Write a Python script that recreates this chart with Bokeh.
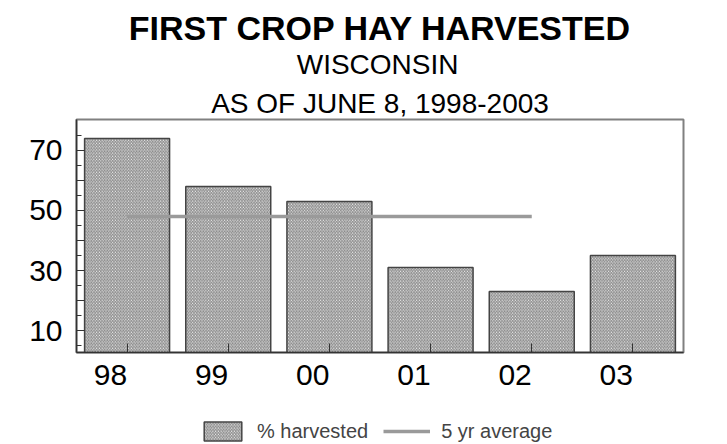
from bokeh.plotting import figure
from bokeh.layouts import column
from bokeh.models import (FactorRange, Range1d, FixedTicker, Title, Legend, LegendItem)
from bokeh.embed import file_html
from bokeh.resources import INLINE

# ---- data ----
years = ["98", "99", "00", "01", "02", "03"]
harvested = [74, 58, 53, 31, 23, 35]
avg_years = ["98", "99", "00", "01", "02"]
avg_values = [48, 48, 48, 48, 48]
y_ticks = [10, 20, 30, 40, 50, 60, 70]
y_minor = [5, 15, 25, 35, 45, 55, 65, 75]
y_labels = {10: "10", 20: "", 30: "30", 40: "", 50: "50", 60: "", 70: "70"}
title_main = "FIRST CROP HAY HARVESTED"
title_sub1 = "WISCONSIN"
title_sub2 = "AS OF JUNE 8, 1998-2003"
legend_labels = ["% harvested", "5 yr average"]

FONT = "Liberation Sans"
BAR_STYLE = dict(fill_color="white", hatch_pattern="\\", hatch_color="#808080",
                 hatch_scale=3.2, hatch_weight=1, line_color="#444444", line_width=1.5)
AVG_STYLE = dict(line_color="#9a9a9a", line_width=3.5)

xr = FactorRange(*years, range_padding=0)
p = figure(x_range=xr, y_range=Range1d(2.67, 80.33),
           width=727, height=412, frame_width=607, frame_height=233,
           min_border_left=76, min_border_right=44, min_border_top=119, min_border_bottom=60,
           output_backend="svg", toolbar_location=None)

bars = p.vbar(x=years, top=harvested, width=0.84, bottom=0, **BAR_STYLE)
avg = p.line(x=avg_years, y=avg_values, **AVG_STYLE)
avg.level = "overlay"

# sub-titles as one two-line block (lines are left-aligned, so pad the short one)
pad = "\u00a0" * 11
p.add_layout(Title(text=pad + title_sub1 + "\n" + title_sub2, align="center", text_font=FONT,
                   text_font_size="28px", text_font_style="normal", text_color="black",
                   text_line_height=1.28, standoff=0), "above")
p.add_layout(Title(text=title_main, align="center", text_font=FONT,
                   text_font_size="34px", text_font_style="bold", text_color="black",
                   standoff=0), "above")

p.grid.visible = False
p.outline_line_color = "#808080"
p.outline_line_width = 2

p.yaxis.ticker = FixedTicker(ticks=y_ticks, minor_ticks=y_minor)
p.yaxis.major_label_overrides = y_labels
p.yaxis.major_tick_in = 8
p.yaxis.major_tick_out = 0
p.yaxis.minor_tick_in = 5
p.yaxis.minor_tick_out = 0
p.yaxis.major_label_standoff = 14
p.xaxis.major_tick_in = 9
p.xaxis.major_tick_out = 0
p.xaxis.major_label_standoff = 22
for ax in (p.xaxis, p.yaxis):
    ax.axis_line_color = "#333333"
    ax.axis_line_width = 1.5
    ax.major_tick_line_color = "#333333"
    ax.minor_tick_line_color = "#333333"
    ax.major_label_text_font = FONT
    ax.major_label_text_font_size = "30px"
    ax.major_label_text_color = "black"
p.xaxis.major_label_orientation = 0

# legend strip below the chart: same series as hidden renderers, only the legend shows
p2 = figure(width=727, height=32, x_range=xr, y_range=Range1d(1000, 1001),
            min_border=0, x_axis_location=None, y_axis_location=None,
            output_backend="svg", toolbar_location=None)
p2.grid.visible = False
p2.outline_line_color = None
lbar = p2.vbar(x=years, top=harvested, width=0.84, bottom=0, **BAR_STYLE)
lline = p2.line(x=avg_years, y=avg_values, **AVG_STYLE)
lbar.visible = False
lline.visible = False
leg = Legend(items=[LegendItem(label=legend_labels[0], renderers=[lbar]),
                    LegendItem(label=legend_labels[1], renderers=[lline])],
             location=(123, 1), orientation="horizontal",
             glyph_width=47, glyph_height=24,
             label_text_font=FONT, label_text_font_size="20px", label_standoff=11,
             spacing=15, padding=0, margin=0,
             inactive_fill_alpha=0,
             border_line_alpha=0, background_fill_alpha=0)
p2.add_layout(leg, "center")

layout = column(p, p2, spacing=0)
open("out.html", "w").write(file_html(layout, INLINE))
